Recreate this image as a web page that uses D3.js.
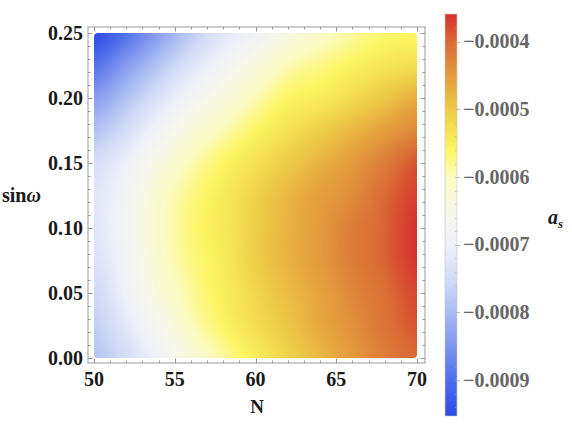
<!DOCTYPE html>
<html><head><meta charset="utf-8">
<script src="https://cdn.jsdelivr.net/npm/d3@7"></script>
<style>body{margin:0;background:#fff}svg{display:block}</style>
</head><body>
<script>
// ---- data ----
const nValues = [50, 52, 54, 56, 58, 60, 62, 64, 66, 68, 70];
const sinwValues = [0, 0.025, 0.05, 0.075, 0.1, 0.125, 0.15, 0.175, 0.2, 0.225, 0.25];
// a_s in units of 1e-4, one row per N value, columns follow sinwValues
const asValuesE4 = [
  [-7.85, -7.7, -7.55, -7.35, -7.25, -7.25, -7.45, -7.9, -8.4, -8.95, -9.5],
  [-7.45, -7.2, -6.95, -6.85, -6.75, -6.8, -7.0, -7.45, -7.9, -8.4, -8.95],
  [-6.9, -6.6, -6.3, -6.15, -6.1, -6.15, -6.4, -6.85, -7.35, -7.85, -8.35],
  [-6.3, -6.0, -5.85, -5.75, -5.7, -5.75, -5.95, -6.3, -6.8, -7.3, -7.75],
  [-5.85, -5.6, -5.5, -5.45, -5.4, -5.45, -5.6, -5.95, -6.35, -6.8, -7.25],
  [-5.45, -5.25, -5.15, -5.05, -5.05, -5.1, -5.3, -5.6, -5.95, -6.35, -6.85],
  [-5.1, -4.95, -4.85, -4.75, -4.75, -4.8, -5.0, -5.3, -5.6, -5.95, -6.4],
  [-4.8, -4.65, -4.6, -4.5, -4.5, -4.55, -4.75, -5.05, -5.45, -5.75, -6.1],
  [-4.5, -4.4, -4.3, -4.2, -4.2, -4.35, -4.5, -4.8, -5.2, -5.55, -5.85],
  [-4.2, -4.1, -4.05, -3.95, -3.95, -4.0, -4.2, -4.55, -4.95, -5.35, -5.65],
  [-4.0, -3.85, -3.75, -3.62, -3.6, -3.7, -3.85, -4.3, -4.7, -5.25, -5.6]
];
const xTicks = [50, 55, 60, 65, 70];
const yTicks = [0, 0.05, 0.10, 0.15, 0.20, 0.25];
const cTicks = [-0.0009, -0.0008, -0.0007, -0.0006, -0.0005, -0.0004];
const cDomain = [-0.000953, -0.000359];
const colorStopValues = [-0.000953, -0.0009, -0.00085, -0.0008, -0.00075, -0.0007, -0.00065, -0.0006, -0.00056, -0.0005, -0.00045, -0.0004, -0.000359];
const colorStopColors = ["#2e4be6", "#4f6fea", "#7d95ee", "#a9bbf3", "#d3dcf6", "#eef0f9", "#f7f7ea", "#fafac0", "#fcf662", "#eecb48", "#e39a3c", "#da6a35", "#d5302e"];

// ---- layout ----
const W = 572, H = 441;
const frame = {x0: 88, x1: 425, y0: 27, y1: 363};
const x = d3.scaleLinear().domain([50, 70]).range([94, 417]);
const y = d3.scaleLinear().domain([0, 0.25]).range([358, 33]);
const cy = d3.scaleLinear().domain(cDomain).range([416, 14]);
const color = d3.scaleLinear().domain(colorStopValues).range(colorStopColors).interpolate(d3.interpolateRgb).clamp(true);
const font = "'Liberation Serif','Times New Roman',serif";

const svg = d3.select("body").append("svg").attr("width", W).attr("height", H);

// ---- density image ----
function cr(p0, p1, p2, p3, t) {
  return 0.5 * ((2 * p1) + (-p0 + p2) * t + (2 * p0 - 5 * p1 + 4 * p2 - p3) * t * t + (-p0 + 3 * p1 - 3 * p2 + p3) * t * t * t);
}
const nN = nValues.length, nS = sinwValues.length;
function g(i, j) { i = Math.max(0, Math.min(nN - 1, i)); j = Math.max(0, Math.min(nS - 1, j)); return asValuesE4[i][j] * 1e-4; }
function valueAt(N, s) {
  const u = (N - nValues[0]) / (nValues[1] - nValues[0]);
  const v = (s - sinwValues[0]) / (sinwValues[1] - sinwValues[0]);
  const i = Math.min(nN - 2, Math.max(0, Math.floor(u))), j = Math.min(nS - 2, Math.max(0, Math.floor(v)));
  const tu = u - i, tv = v - j;
  const cols = [];
  for (let di = -1; di <= 2; di++) cols.push(cr(g(i + di, j - 1), g(i + di, j), g(i + di, j + 1), g(i + di, j + 2), tv));
  return cr(cols[0], cols[1], cols[2], cols[3], tu);
}
const px0 = Math.round(x(50)), px1 = Math.round(x(70)), py0 = Math.round(y(0.25)), py1 = Math.round(y(0));
const cw = px1 - px0, ch = py1 - py0;
const canvas = document.createElement("canvas");
canvas.width = cw; canvas.height = ch;
const ctx = canvas.getContext("2d");
const img = ctx.createImageData(cw, ch);
for (let r = 0; r < ch; r++) {
  const s = y.invert(py0 + r + 0.5);
  for (let c = 0; c < cw; c++) {
    const N = x.invert(px0 + c + 0.5);
    const col = d3.rgb(color(valueAt(N, s)));
    const k = (r * cw + c) * 4;
    img.data[k] = col.r; img.data[k + 1] = col.g; img.data[k + 2] = col.b; img.data[k + 3] = 255;
  }
}
ctx.putImageData(img, 0, 0);
const defs = svg.append("defs");
defs.append("clipPath").attr("id", "dclip").append("rect")
  .attr("x", px0).attr("y", py0).attr("width", cw).attr("height", ch).attr("rx", 4);
svg.append("image").attr("href", canvas.toDataURL()).attr("x", px0).attr("y", py0)
  .attr("width", cw).attr("height", ch).attr("clip-path", "url(#dclip)");

// ---- frame & ticks ----
const tickCol = "#999";
svg.append("rect").attr("x", frame.x0).attr("y", frame.y0).attr("width", frame.x1 - frame.x0).attr("height", frame.y1 - frame.y0)
  .attr("fill", "none").attr("stroke", tickCol).attr("stroke-width", 1);
const ticksG = svg.append("g").attr("stroke", tickCol).attr("stroke-width", 1);
d3.range(50, 70.001, 1).forEach(v => {
  const major = Math.abs(v % 5) < 1e-9;
  const L = major ? 4.5 : 2.5;
  const xx = Math.round(x(v)) + 0.5;
  ticksG.append("line").attr("x1", xx).attr("x2", xx).attr("y1", frame.y1).attr("y2", frame.y1 - L);
  ticksG.append("line").attr("x1", xx).attr("x2", xx).attr("y1", frame.y0).attr("y2", frame.y0 + L);
});
d3.range(0, 0.2501, 0.01).forEach(v => {
  const major = Math.abs(Math.round(v * 100) % 5) === 0;
  const L = major ? 4.5 : 2.5;
  const yy = Math.round(y(v)) + 0.5;
  ticksG.append("line").attr("x1", frame.x0).attr("x2", frame.x0 + L).attr("y1", yy).attr("y2", yy);
  ticksG.append("line").attr("x1", frame.x1).attr("x2", frame.x1 - L).attr("y1", yy).attr("y2", yy);
});

// tick labels
const lab = svg.append("g").attr("font-family", font).attr("font-weight", "bold").attr("font-size", 20).attr("fill", "#1a1a1a");
xTicks.forEach(v => lab.append("text").attr("x", x(v)).attr("y", 386).attr("text-anchor", "middle").text(d3.format("d")(v)));
yTicks.forEach(v => lab.append("text").attr("x", 83).attr("y", y(v) + 6.6).attr("text-anchor", "end").text(d3.format(".2f")(v)));

// axis titles
svg.append("text").attr("x", 257).attr("y", 413).attr("text-anchor", "middle")
  .attr("font-family", font).attr("font-weight", "bold").attr("font-size", 19).attr("fill", "#1a1a1a").text("N");
const sl = svg.append("text").attr("x", 2).attr("y", 202)
  .attr("font-family", font).attr("font-weight", "bold").attr("font-size", 20).attr("fill", "#1a1a1a");
sl.append("tspan").text("sin");
sl.append("tspan").attr("font-style", "italic").text("ω");

// ---- colorbar ----
const cb = {x0: 445, x1: 457};
const grad = defs.append("linearGradient").attr("id", "cgrad").attr("x1", 0).attr("x2", 0).attr("y1", 1).attr("y2", 0);
colorStopValues.forEach((v, i) => {
  grad.append("stop").attr("offset", (v - cDomain[0]) / (cDomain[1] - cDomain[0])).attr("stop-color", colorStopColors[i]);
});
svg.append("rect").attr("x", cb.x0).attr("y", cy(cDomain[1])).attr("width", cb.x1 - cb.x0)
  .attr("height", cy(cDomain[0]) - cy(cDomain[1])).attr("fill", "url(#cgrad)").attr("stroke", "#c8c8c8").attr("stroke-width", 0.6);
const cbt = svg.append("g").attr("stroke", "#aaa").attr("stroke-width", 0.8);
d3.range(-0.00094, -0.00036, 0.00002).forEach(v => {
  const yy = Math.round(cy(v)) + 0.5;
  cbt.append("line").attr("x1", cb.x1).attr("x2", cb.x1 - 2).attr("y1", yy).attr("y2", yy).attr("stroke-opacity", 0.6);
});
cTicks.forEach(v => {
  const yy = Math.round(cy(v)) + 0.5;
  cbt.append("line").attr("x1", cb.x1).attr("x2", cb.x1 + 3).attr("y1", yy).attr("y2", yy);
});
const clab = svg.append("g").attr("font-family", font).attr("font-weight", "bold").attr("font-size", 20).attr("fill", "#666");
cTicks.forEach(v => clab.append("text").attr("x", 463).attr("y", cy(v) + 6.6).text("\u2212" + d3.format(".4f")(Math.abs(v))));

// colorbar title a_s
const at = svg.append("text").attr("x", 548).attr("y", 224)
  .attr("font-family", font).attr("font-weight", "bold").attr("font-style", "italic").attr("font-size", 20).attr("fill", "#1a1a1a");
at.append("tspan").text("a");
at.append("tspan").attr("font-size", 13).attr("dy", 4).text("s");
</script>
</body></html>
